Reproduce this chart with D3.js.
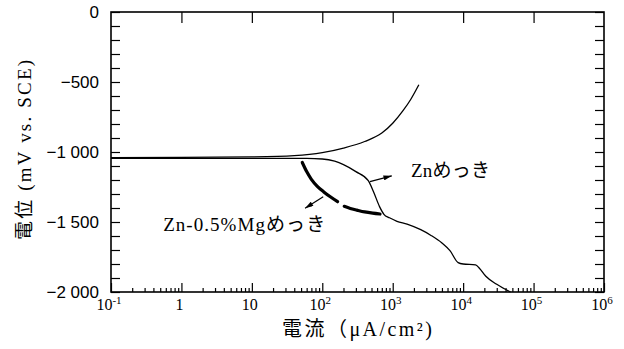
<!DOCTYPE html>
<html>
<head>
<meta charset="utf-8">
<script src="https://cdn.jsdelivr.net/npm/d3@7/dist/d3.min.js"></script>
<style>
  body { margin: 0; background: #fff; }
  svg { display: block; }
  .serif { font-family: "Liberation Serif", "Noto Sans CJK JP", serif; }
  .sans { font-family: "Liberation Sans", Arial, sans-serif; }
  .axis .domain { display: none; }
  .axis line { stroke: #000; stroke-width: 1.2; }
</style>
</head>
<body>
<div id="chart"></div>
<script>
// x axis: current density (uA/cm2), log decades
const decades = [0.1, 1, 10, 100, 1000, 1e4, 1e5, 1e6];
const decadeBase = ["10", "1", "10", "10", "10", "10", "10", "10"];
const decadeSup = ["-1", "", "", "2", "3", "4", "5", "6"];

// y axis: potential (mV vs. SCE)
const potentialTicks = [0, -500, -1000, -1500, -2000];
const potentialLabels = ["0", "\u2212500", "\u22121 000", "\u22121 500", "\u22122 000"];

// anodic branch (upper curve)
const anodicCurrent = [0.1, 1, 10, 40, 100, 200, 400, 700, 1000, 1400, 1800, 2350];
const anodicPotential = [-1040, -1039, -1035, -1026, -1005, -972, -925, -865, -795, -705, -625, -520];

// Zn plating cathodic branch
const znCurrent = [0.1, 1, 10, 60, 100, 150, 200, 300, 450, 530, 650, 750, 900, 1150, 1600, 2500, 3500, 5000, 6500, 8500, 10000, 15000, 17000, 21000, 30000, 47000];
const znPotential = [-1046, -1046, -1046, -1046, -1050, -1066, -1090, -1140, -1205, -1280, -1390, -1445, -1470, -1495, -1515, -1555, -1596, -1650, -1705, -1790, -1800, -1806, -1830, -1888, -1945, -2000];

// Zn-0.5%Mg plating cathodic branch (drawn with a break)
const mgCurrent = [52, 60, 70, 85, 105, 130, 165, 185, 205, 250, 310, 400, 520, 660];
const mgPotential = [-1075, -1140, -1195, -1245, -1285, -1320, -1355, null, -1388, -1403, -1415, -1428, -1437, -1443];

// annotation arrows [current, potential] tail -> head
const znArrow = [[475, -1212], [970, -1170]];
const mgArrow = [[103, -1319], [57, -1402]];

const width = 624, height = 349;
const margin = { top: 12, right: 20, bottom: 57, left: 111 };

const x = d3.scaleLog()
  .domain([0.1, 1e6])
  .range([margin.left, width - margin.right]);

const y = d3.scaleLinear()
  .domain([-2000, 0])
  .range([height - margin.bottom, margin.top]);

const svg = d3.select("#chart")
  .append("svg")
  .attr("width", width)
  .attr("height", height);

svg.append("defs")
  .append("marker")
  .attr("id", "arrow")
  .attr("viewBox", "0 0 10 6")
  .attr("refX", 10)
  .attr("refY", 3)
  .attr("markerWidth", 9)
  .attr("markerHeight", 5)
  .attr("markerUnits", "userSpaceOnUse")
  .attr("orient", "auto")
  .append("path")
  .attr("d", "M0,0L10,3L0,6Z")
  .attr("fill", "#000");

const minorTicks = [];
decades.slice(0, -1).forEach((d) => {
  for (let k = 2; k <= 9; k++) minorTicks.push(d * k);
});
const potentialMinor = d3.range(-2000, 1, 100);

// bottom axis: decade ticks + minor ticks, inward
svg.append("g")
  .attr("class", "axis")
  .attr("transform", `translate(0,${y(-2000)})`)
  .call(d3.axisBottom(x).tickValues(decades).tickSize(-9).tickFormat(""));

svg.append("g")
  .attr("class", "axis")
  .attr("transform", `translate(0,${y(-2000)})`)
  .call(d3.axisBottom(x).tickValues(minorTicks).tickSize(-4).tickFormat(""));

// top axis: decade ticks only
svg.append("g")
  .attr("class", "axis")
  .attr("transform", `translate(0,${y(0)})`)
  .call(d3.axisTop(x).tickValues(decades.slice(1, -1)).tickSize(-11).tickFormat(""));

// left and right axes: every 100 mV
svg.append("g")
  .attr("class", "axis")
  .attr("transform", `translate(${x(0.1)},0)`)
  .call(d3.axisLeft(y).tickValues(potentialMinor).tickSize(-9).tickFormat(""));

svg.append("g")
  .attr("class", "axis")
  .attr("transform", `translate(${x(1e6)},0)`)
  .call(d3.axisRight(y).tickValues(potentialMinor).tickSize(-9).tickFormat(""));

// frame
svg.append("rect")
  .attr("x", x(0.1))
  .attr("y", y(0))
  .attr("width", x(1e6) - x(0.1))
  .attr("height", y(-2000) - y(0))
  .attr("fill", "none")
  .attr("stroke", "#000")
  .attr("stroke-width", 1.6);

// x tick labels with superscripts
const xLabels = svg.append("g")
  .attr("class", "serif")
  .attr("font-size", 16)
  .selectAll("text")
  .data(decades)
  .join("text")
  .attr("x", (d) => x(d) - 2)
  .attr("y", 310)
  .attr("text-anchor", "middle");

xLabels.append("tspan").text((d, i) => decadeBase[i]);
xLabels.append("tspan")
  .attr("dy", -6)
  .attr("font-size", 11)
  .text((d, i) => decadeSup[i]);

// y tick labels
svg.append("g")
  .attr("class", "sans")
  .attr("font-size", 17)
  .selectAll("text")
  .data(potentialTicks)
  .join("text")
  .attr("x", x(0.1) - 12)
  .attr("y", (d) => y(d))
  .attr("dy", "0.36em")
  .attr("text-anchor", "end")
  .text((d, i) => potentialLabels[i]);

// axis titles
svg.append("text")
  .attr("class", "serif")
  .attr("font-size", 19)
  .attr("text-anchor", "middle")
  .attr("transform", "translate(31,150) rotate(-90)")
  .attr("textLength", 180)
  .attr("lengthAdjust", "spacing")
  .text("電位 (mV vs. SCE)");

svg.append("text")
  .attr("class", "serif")
  .attr("font-size", 20)
  .attr("text-anchor", "middle")
  .attr("x", 357)
  .attr("y", 336)
  .attr("textLength", 150)
  .attr("lengthAdjust", "spacing")
  .text("電流（μA/cm²)");

// curves
const line = d3.line()
  .defined((d) => d[1] != null)
  .x((d) => x(d[0]))
  .y((d) => y(d[1]))
  .curve(d3.curveMonotoneX);

svg.append("path")
  .datum(anodicCurrent.map((c, i) => [c, anodicPotential[i]]))
  .attr("d", line)
  .attr("fill", "none")
  .attr("stroke", "#000")
  .attr("stroke-width", 1.3);

svg.append("path")
  .datum(znCurrent.map((c, i) => [c, znPotential[i]]))
  .attr("d", line)
  .attr("fill", "none")
  .attr("stroke", "#000")
  .attr("stroke-width", 1.3);

svg.append("path")
  .datum(mgCurrent.map((c, i) => [c, mgPotential[i]]))
  .attr("d", line)
  .attr("fill", "none")
  .attr("stroke", "#000")
  .attr("stroke-width", 3.2)
  .attr("stroke-linecap", "round");

// annotation arrows
[znArrow, mgArrow].forEach((a) => {
  svg.append("line")
    .attr("x1", x(a[0][0]))
    .attr("y1", y(a[0][1]))
    .attr("x2", x(a[1][0]))
    .attr("y2", y(a[1][1]))
    .attr("stroke", "#000")
    .attr("stroke-width", 1.2)
    .attr("marker-end", "url(#arrow)");
});

// curve labels
svg.append("text")
  .attr("class", "serif")
  .attr("font-size", 19)
  .attr("x", x(1820))
  .attr("y", y(-1179))
  .attr("textLength", 79)
  .attr("lengthAdjust", "spacing")
  .text("Znめっき");

svg.append("text")
  .attr("class", "serif")
  .attr("font-size", 19)
  .attr("x", x(0.55))
  .attr("y", y(-1564))
  .attr("textLength", 162)
  .attr("lengthAdjust", "spacing")
  .text("Zn-0.5%Mgめっき");
</script>
</body>
</html>
